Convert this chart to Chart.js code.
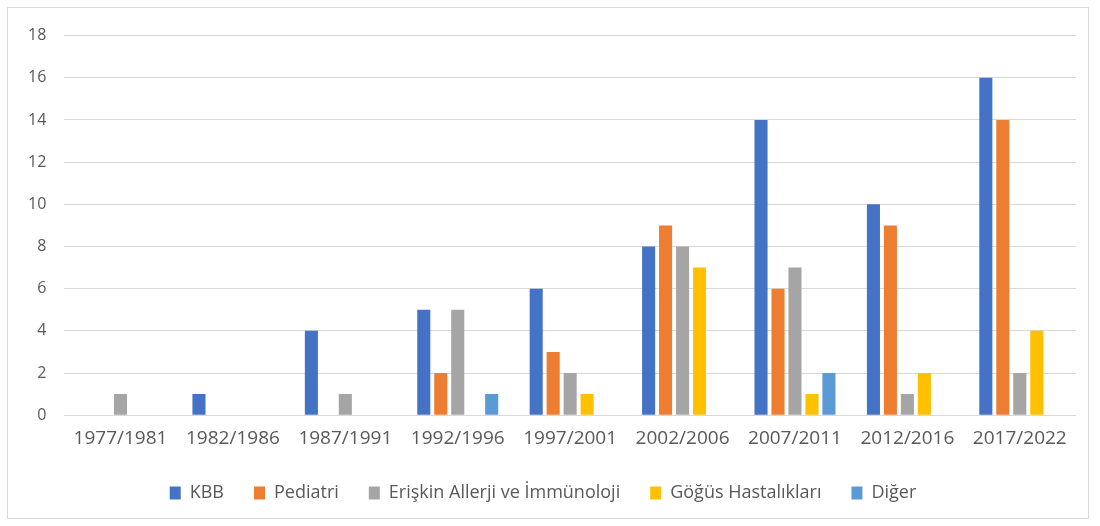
<!DOCTYPE html>
<html>
<head>
<meta charset="utf-8">
<script src="https://cdn.jsdelivr.net/npm/chart.js@4"></script>
<style>
  body { margin: 0; background: #fff; }
  #box { position: absolute; left: 7px; top: 7px; width: 1082px; height: 512px; border: 1px solid #d9d9d9; box-sizing: border-box; }
  canvas { display: block; }
</style>
</head>
<body>
<div id="box"><canvas id="chart" width="1080" height="510"></canvas></div>
<script>
// periods and counts per field
const periods = ['1977/1981', '1982/1986', '1987/1991', '1992/1996', '1997/2001', '2002/2006', '2007/2011', '2012/2016', '2017/2022'];
const kbb      = [0, 1, 4, 5, 6, 8, 14, 10, 16];
const pediatri = [0, 0, 0, 2, 3, 9, 6, 9, 14];
const eriskin  = [1, 0, 1, 5, 2, 8, 7, 1, 2];
const gogus    = [0, 0, 0, 0, 1, 7, 1, 2, 4];
const diger    = [0, 0, 0, 1, 0, 0, 2, 0, 0];
const yTicks = [0, 2, 4, 6, 8, 10, 12, 14, 16, 18];

const font = "'Open Sans', 'Noto Sans', sans-serif";

new Chart(document.getElementById('chart'), {
    type: 'bar',
    data: {
        labels: periods,
        datasets: [
            { label: 'KBB', data: kbb, backgroundColor: '#4472C4' },
            { label: 'Pediatri', data: pediatri, backgroundColor: '#ED7D31' },
            { label: 'Erişkin Allerji ve İmmünoloji', data: eriskin, backgroundColor: '#A5A5A5' },
            { label: 'Göğüs Hastalıkları', data: gogus, backgroundColor: '#FFC000' },
            { label: 'Diğer', data: diger, backgroundColor: '#5B9BD5' }
        ]
    },
    options: {
        responsive: false,
        animation: false,
        datasets: { bar: { categoryPercentage: 0.755, barPercentage: 0.77 } },
        layout: { padding: { left: 2, right: 12, top: 12, bottom: 6 } },
        scales: {
            x: {
                grid: { display: false },
                border: { display: false },
                ticks: { color: '#595959', font: { family: font, size: 19 }, padding: 4, maxRotation: 0, autoSkip: false }
            },
            y: {
                min: 0, max: 18,
                afterBuildTicks: axis => { axis.ticks = yTicks.map(v => ({ value: v })); },
                grid: { color: '#d9d9d9', drawTicks: false },
                border: { display: false },
                ticks: { color: '#595959', font: { family: font, size: 16 }, padding: 18 }
            }
        },
        plugins: {
            legend: {
                position: 'bottom',
                labels: { color: '#595959', font: { family: font, size: 18 }, boxWidth: 11, boxHeight: 13, padding: 30 }
            },
            tooltip: { enabled: false }
        }
    }
});
</script>
</body>
</html>
